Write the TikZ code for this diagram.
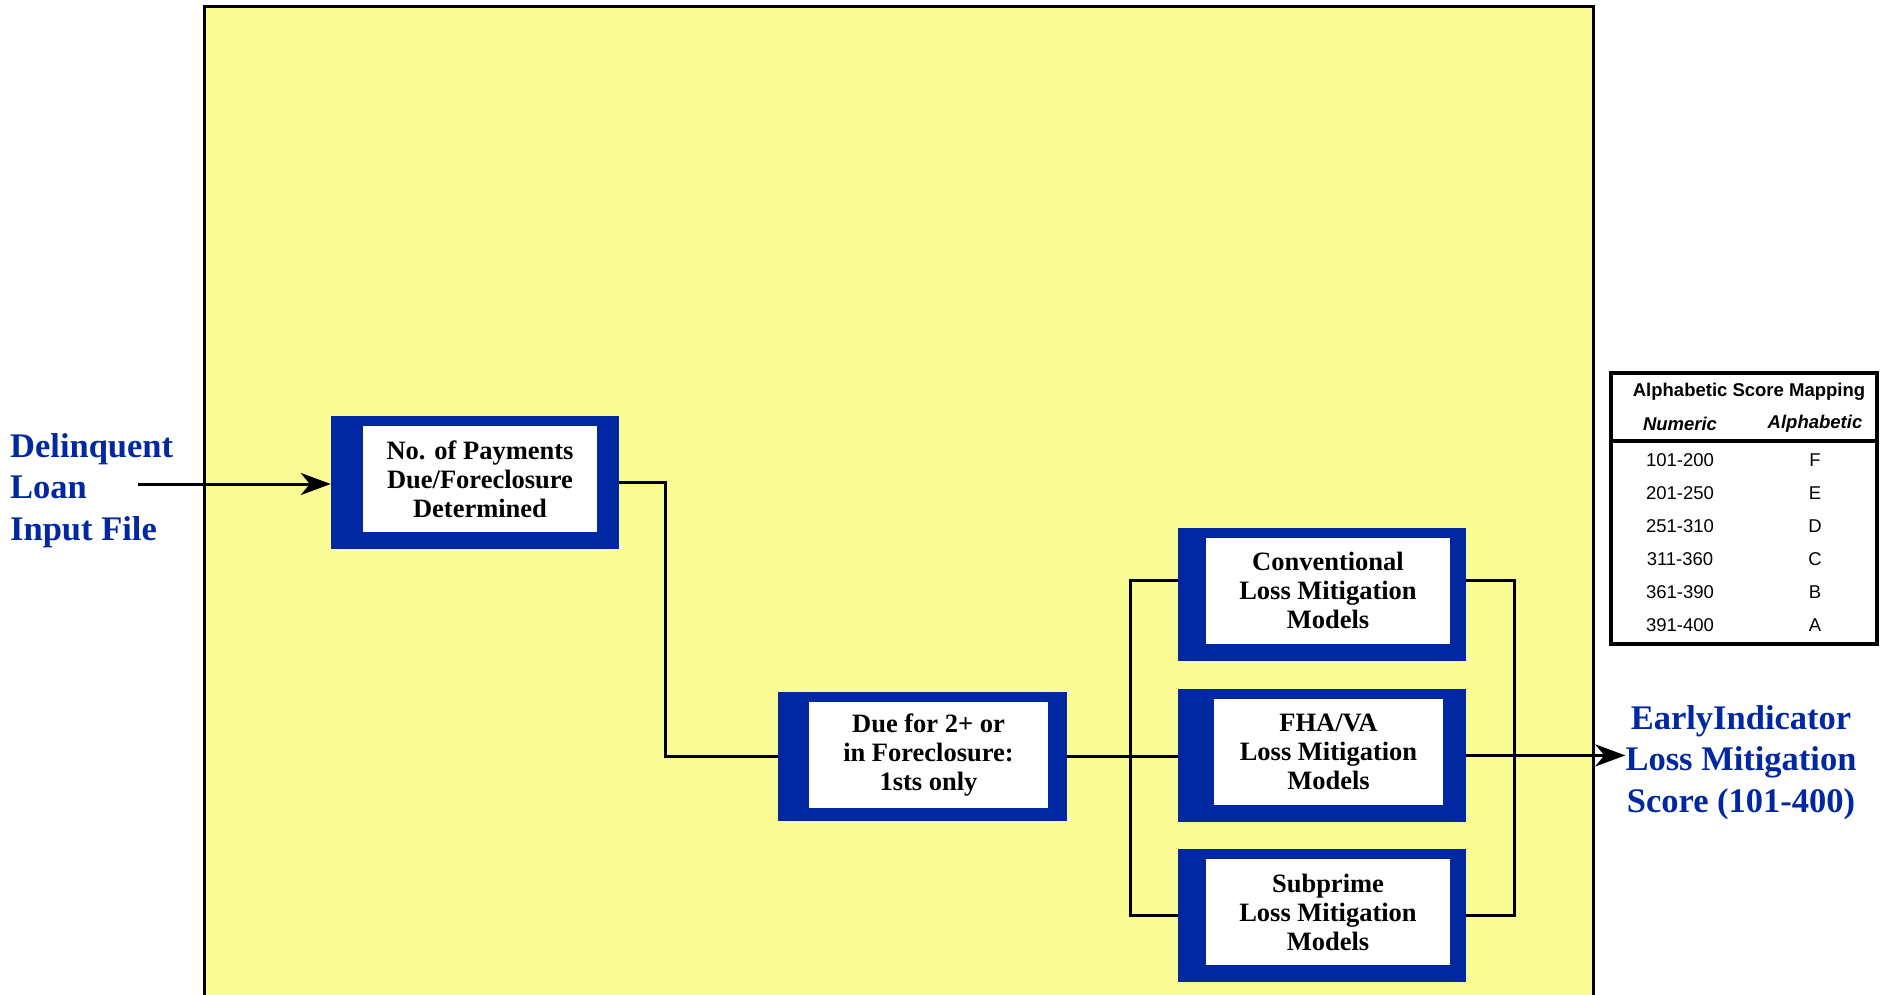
\documentclass[tikz,border=0pt]{standalone}
\usepackage{fontspec}
\setmainfont{Liberation Serif}
\newfontfamily\tablefont{Liberation Sans}
\usepackage{xcolor}
\usetikzlibrary{shapes,arrows,arrows.meta,positioning,calc}

\definecolor{boxblue}{RGB}{0,40,160}
\definecolor{paneyellow}{RGB}{250,251,148}

\begin{document}
\begin{tikzpicture}[x=1pt, y=-1pt,
    frame/.style={rectangle, fill=boxblue, inner sep=0pt, minimum width=288pt, minimum height=133pt},
    card/.style={rectangle, fill=white, inner sep=0pt, align=center, minimum height=106pt,
        font=\fontsize{26.5}{29}\selectfont\bfseries},
    bluetext/.style={text=boxblue, inner sep=0pt, font=\fontsize{34.5}{41.5}\selectfont\bfseries},
    link/.style={line width=3pt},
    arr/.style={line width=3pt, -{Stealth[length=30pt, width=22pt, inset=9pt]}},
    cell/.style={inner sep=0pt, font=\tablefont\fontsize{18.5}{20}\selectfont},
    headcell/.style={inner sep=0pt, font=\tablefont\fontsize{18.5}{20}\selectfont\bfseries},
    colcell/.style={inner sep=0pt, font=\tablefont\fontsize{18.5}{20}\selectfont\bfseries\itshape}]
        \useasboundingbox (0,0) rectangle (1880,994);
        \clip (0,0) rectangle (1880,994);

        % Panel
        \draw[fill=paneyellow, line width=3pt] (204,6) rectangle (1593,1010);

        % Input
        \node (src-txt) [bluetext, anchor=west, align=left] at (10,490.5) {Delinquent\\Loan\\Input File};
        \coordinate (src) at (138,484);

        % Row 1
        \node (pay) [frame] at (475,482.5) {};
        \node (pay-txt) [card, minimum width=234pt] at ($(pay)+(5,-3.5)$) {No. of Payments\\Due/Foreclosure\\Determined};

        % Row 2
        \node (due) [frame, minimum width=289pt, minimum height=129pt] at (922.5,756.5) {};
        \node (due-txt) [card, minimum width=239pt] at ($(due)+(6,-1.5)$) {Due for 2+ or\\in Foreclosure:\\1sts only};

        % Models
        \node (conv) [frame] at (1322,594) {};
        \node (conv-txt) [card, minimum width=244pt] at ($(conv)+(6,-3.5)$) {Conventional\\Loss Mitigation\\Models};
        \node (fha) [frame, below=28pt of conv] {};
        \node (fha-txt) [card, minimum width=229pt] at ($(fha)+(6.5,-3.5)$) {FHA/VA\\Loss Mitigation\\Models};
        \node (sub) [frame, below=27pt of fha] {};
        \node (sub-txt) [card, minimum width=244pt] at ($(sub)+(6,-3.5)$) {Subprime\\Loss Mitigation\\Models};

        % Output
        \node (score) [bluetext, align=center] at (1741,762.5) {EarlyIndicator\\Loss Mitigation\\Score (101-400)};

        % Mapping table
        \node (map) [rectangle, draw, line width=4pt, minimum width=266pt, minimum height=271pt] at (1744,508.5) {};
        \node (map-head) [headcell] at (1749,392) {Alphabetic Score Mapping};
        \node (map-num) [colcell] at (1680,424) {Numeric};
        \node (map-alpha) [colcell] at (1815,424) {Alphabetic};
        \draw[line width=4pt] (map.west |- 0,441) -- (map.east |- 0,441);
        \node (n1) [cell] at (1680,460) {101-200};
        \node (a1) [cell] at (1815,460) {F};
        \node (n2) [cell] at (1680,493) {201-250};
        \node (a2) [cell] at (1815,493) {E};
        \node (n3) [cell] at (1680,526) {251-310};
        \node (a3) [cell] at (1815,526) {D};
        \node (n4) [cell] at (1680,559) {311-360};
        \node (a4) [cell] at (1815,559) {C};
        \node (n5) [cell] at (1680,592) {361-390};
        \node (a5) [cell] at (1815,592) {B};
        \node (n6) [cell] at (1680,625) {391-400};
        \node (a6) [cell] at (1815,625) {A};

        % Arrows
        \coordinate (fork) at (1130,756);
        \coordinate (join) at (1514,756);
        \draw[arr] (src) -- (src -| pay.west);
        \draw[link] (pay.east) -- ++(46,0) |- (due.west);
        \draw[link] (due.east) -- (due.east -| fha.west);
        \draw[link] ([yshift=14pt]conv.west) -| (fork) |- (sub.west);
        \draw[link] ([yshift=14pt]conv.east) -| (join) |- (sub.east);
        \draw[arr] (fha.east) -- (fha.east -| score.west);
    \end{tikzpicture}
\end{document}
